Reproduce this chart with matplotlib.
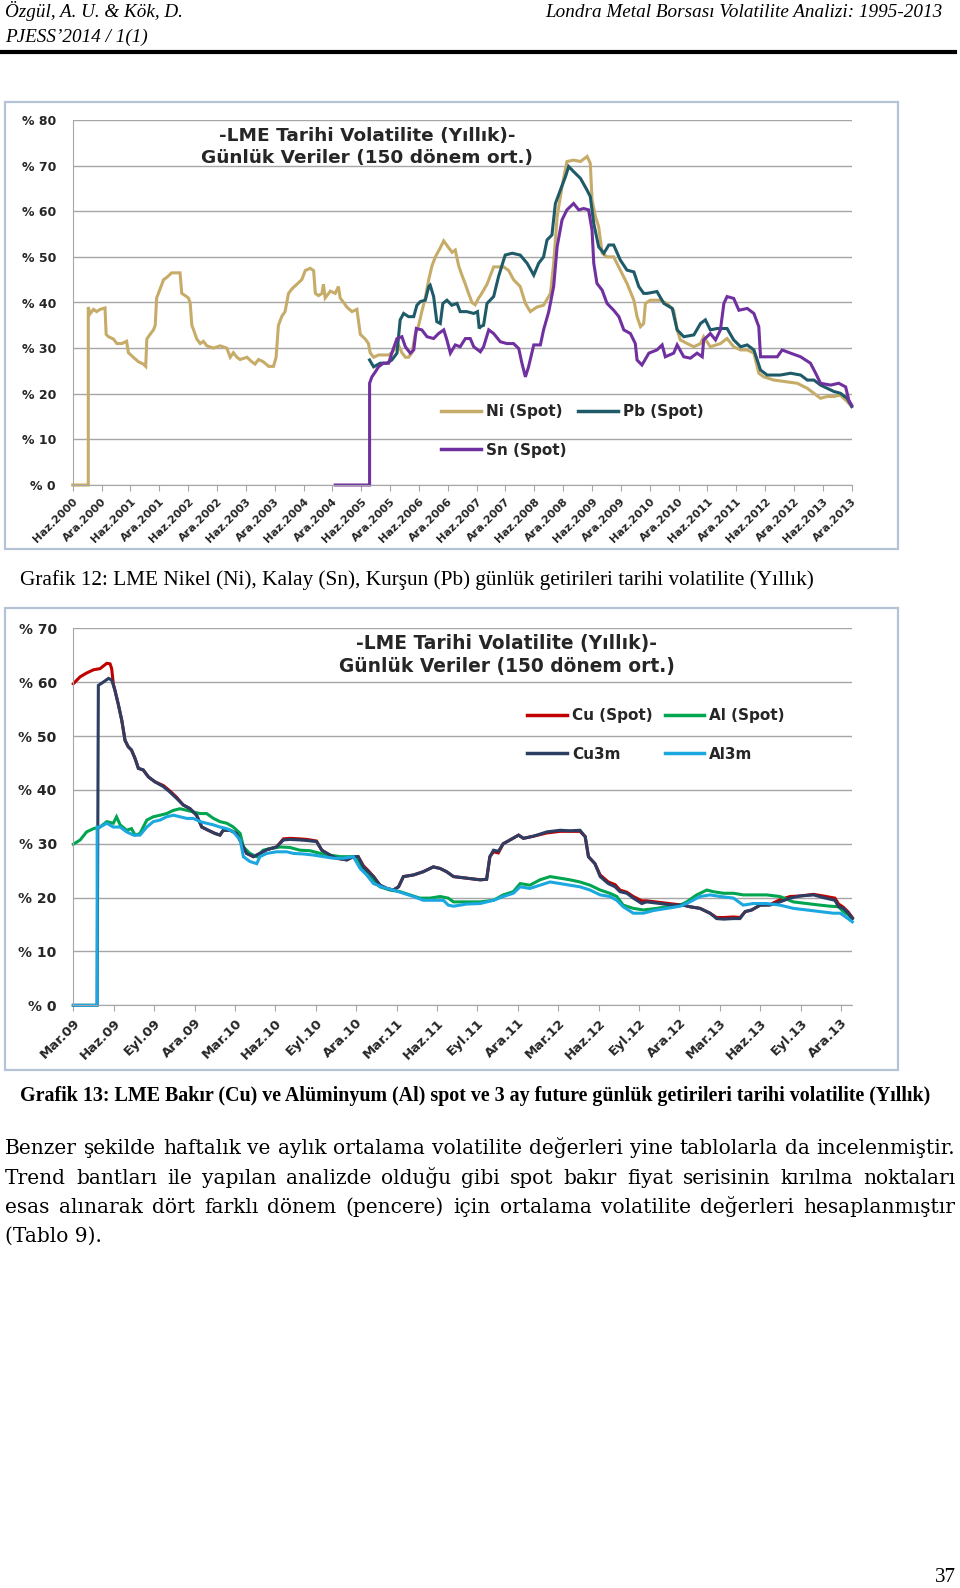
import matplotlib
matplotlib.use("Agg")
import matplotlib.pyplot as plt
from matplotlib.patches import Rectangle

# ---------------------------------------------------------------------------
# data (x = tick index, y = volatility in %)
# ---------------------------------------------------------------------------
labels_1 = ["Haz.2000", "Ara.2000", "Haz.2001", "Ara.2001", "Haz.2002", "Ara.2002",
            "Haz.2003", "Ara.2003", "Haz.2004", "Ara.2004", "Haz.2005", "Ara.2005",
            "Haz.2006", "Ara.2006", "Haz.2007", "Ara.2007", "Haz.2008", "Ara.2008",
            "Haz.2009", "Ara.2009", "Haz.2010", "Ara.2010", "Haz.2011", "Ara.2011",
            "Haz.2012", "Ara.2012", "Haz.2013", "Ara.2013"]

ni_spot = [(0, 0), (0.54, 0), (0.54, 39), (0.60, 37.5), (0.72, 38.5), (0.83, 38), (0.95, 38.5),
           (1.12, 38.8), (1.16, 33), (1.24, 32.5), (1.41, 32), (1.53, 31), (1.70, 31), (1.87, 31.5),
           (1.93, 29), (2.10, 28), (2.28, 27), (2.45, 26.5), (2.53, 26), (2.57, 32), (2.68, 33),
           (2.80, 34), (2.86, 35), (2.91, 41), (3.03, 43), (3.15, 45), (3.26, 45.5), (3.43, 46.5),
           (3.61, 46.5), (3.72, 46.5), (3.78, 42), (3.90, 41.5), (4.01, 41), (4.07, 40), (4.13, 35),
           (4.19, 34), (4.30, 32), (4.42, 31), (4.53, 31.5), (4.65, 30.5), (4.88, 30), (5.11, 30.5),
           (5.34, 30), (5.46, 28), (5.57, 29), (5.69, 28), (5.80, 27.5), (6.04, 28), (6.21, 27),
           (6.32, 26.5), (6.44, 27.5), (6.61, 27), (6.79, 26), (6.96, 26), (7.05, 28), (7.13, 35),
           (7.25, 37), (7.36, 38), (7.48, 42), (7.60, 43), (7.77, 44), (7.94, 45), (8.06, 47),
           (8.23, 47.5), (8.35, 47), (8.41, 42), (8.52, 41.5), (8.64, 42), (8.69, 44), (8.75, 41),
           (8.93, 42.5), (9.10, 42), (9.21, 43.5), (9.27, 41), (9.39, 40), (9.50, 39), (9.68, 38),
           (9.85, 38.5), (9.97, 33), (10.14, 32), (10.25, 31), (10.31, 29), (10.37, 28.5), (10.43, 28),
           (10.60, 28.5), (10.78, 28.5), (10.95, 28.5), (11.06, 29), (11.18, 30), (11.30, 30.5),
           (11.41, 29), (11.53, 28), (11.64, 28), (11.76, 29), (11.87, 33), (11.99, 35), (12.10, 38),
           (12.22, 41), (12.34, 45), (12.45, 48), (12.57, 50), (12.74, 52), (12.86, 53.5), (13.03, 52),
           (13.15, 51), (13.26, 51.5), (13.38, 48), (13.49, 46), (13.61, 44), (13.72, 42), (13.84, 40),
           (13.95, 39.5), (14.07, 41), (14.13, 41.5), (14.36, 44), (14.59, 47.8), (14.94, 47.8),
           (15.11, 47), (15.28, 45), (15.51, 43.5), (15.69, 39.8), (15.86, 38), (16.09, 39), (16.32, 39.4),
           (16.56, 42), (16.67, 48.6), (16.79, 58.8), (16.96, 65.4), (17.13, 70.9), (17.36, 71.2),
           (17.60, 70.9), (17.83, 72), (17.94, 70.5), (18.00, 62.5), (18.12, 58.8), (18.23, 56.6),
           (18.35, 50.8), (18.52, 50), (18.75, 50), (18.98, 47.1), (19.21, 44.2), (19.45, 40.5),
           (19.56, 36.9), (19.68, 34.7), (19.79, 35.4), (19.85, 39.8), (20.02, 40.5), (20.37, 40.5),
           (20.60, 39.8), (20.83, 38.3), (20.95, 34), (21.06, 31.8), (21.30, 31), (21.53, 30.3),
           (21.76, 31), (21.87, 32.5), (22.10, 30.3), (22.45, 31), (22.68, 32.1), (22.91, 30.3),
           (23.15, 29.6), (23.38, 29.6), (23.61, 28.9), (23.78, 24.5), (23.95, 23.7), (24.30, 23),
           (24.76, 22.6), (25.11, 22.3), (25.46, 21.2), (25.69, 20.1), (25.92, 19), (26.15, 19.4),
           (26.38, 19.4), (26.61, 19.7), (26.84, 18.3), (27.0, 17.2)]

pb_spot = [(10.29, 27.4), (10.43, 25.9), (10.66, 26.7), (10.89, 26.7), (11.06, 27.4), (11.24, 28.9),
           (11.35, 36.2), (11.47, 37.6), (11.64, 36.9), (11.82, 36.9), (11.93, 39.4), (12.05, 40.2),
           (12.22, 40.5), (12.34, 43.5), (12.39, 43.8), (12.51, 41.3), (12.62, 35.8), (12.74, 35.4),
           (12.83, 39.8), (12.97, 40.5), (13.14, 39.4), (13.32, 39.8), (13.43, 38), (13.66, 38),
           (13.90, 37.6), (14.03, 38), (14.09, 34.3), (14.13, 34.7), (14.24, 35), (14.36, 39.8),
           (14.59, 41.3), (14.76, 45.7), (14.99, 50.4), (15.23, 50.8), (15.51, 50.4), (15.75, 48.6),
           (15.98, 46), (16.15, 48.6), (16.32, 50), (16.44, 53.7), (16.61, 54.8), (16.73, 61.7),
           (16.90, 64.6), (17.08, 67.6), (17.19, 69.8), (17.36, 68.7), (17.60, 67.2), (17.83, 64.6),
           (17.94, 63.2), (18.06, 57.3), (18.23, 52.2), (18.41, 50.8), (18.58, 52.6), (18.75, 52.6),
           (18.98, 49.3), (19.21, 47.1), (19.45, 46.7), (19.62, 43.5), (19.79, 42), (19.91, 42),
           (20.25, 42.4), (20.49, 39.8), (20.78, 38.7), (20.95, 34), (21.18, 32.5), (21.53, 32.9),
           (21.76, 35.4), (21.93, 36.2), (22.10, 34), (22.34, 34.3), (22.68, 34.3), (22.91, 31.8),
           (23.15, 30.3), (23.38, 30.7), (23.61, 29.6), (23.84, 25.2), (24.07, 24.1), (24.53, 24.1),
           (24.88, 24.5), (25.23, 24.1), (25.46, 23), (25.69, 23), (25.92, 21.9), (26.15, 21.2),
           (26.38, 20.5), (26.61, 20.1), (26.84, 19), (27.0, 17.2)]

sn_spot = [(9.10, 0), (10.29, 0), (10.29, 22.3), (10.37, 23.7), (10.49, 24.8), (10.60, 25.9),
           (10.77, 26.7), (10.95, 26.7), (11.06, 28.9), (11.24, 32.1), (11.41, 32.5), (11.53, 30.3),
           (11.70, 28.9), (11.82, 29.6), (11.91, 34.3), (12.10, 34), (12.28, 32.5), (12.51, 32.1),
           (12.68, 33.2), (12.86, 34), (12.97, 31.8), (13.09, 28.9), (13.26, 30.7), (13.43, 30.3),
           (13.61, 32.1), (13.78, 32.1), (13.90, 30.3), (14.13, 29.2), (14.24, 30.3), (14.42, 34),
           (14.59, 33.2), (14.82, 31.4), (15.05, 31), (15.28, 31), (15.46, 29.9), (15.57, 26.7),
           (15.69, 23.7), (15.80, 25.9), (15.98, 30.7), (16.21, 30.7), (16.32, 34), (16.50, 38),
           (16.67, 43.5), (16.79, 52.2), (16.96, 58.1), (17.13, 60.3), (17.36, 61.7), (17.54, 60.3),
           (17.71, 60.6), (17.88, 60.3), (18.00, 55.9), (18.06, 48.6), (18.17, 44.2), (18.35, 42.7),
           (18.52, 39.8), (18.75, 38.3), (18.93, 36.9), (19.10, 34), (19.33, 33.2), (19.50, 31),
           (19.56, 27.4), (19.73, 26.3), (19.97, 28.9), (20.25, 29.6), (20.43, 30.7), (20.54, 28.1),
           (20.83, 28.9), (20.95, 30.7), (21.18, 28.1), (21.41, 27.8), (21.64, 28.9), (21.82, 28.1),
           (21.87, 31.8), (22.10, 33.2), (22.28, 31.8), (22.45, 34), (22.57, 39.8), (22.68, 41.3),
           (22.91, 40.9), (23.09, 38.3), (23.38, 38.7), (23.61, 37.6), (23.78, 34.7), (23.84, 28.1),
           (24.07, 28.1), (24.42, 28.1), (24.59, 29.6), (24.88, 28.9), (25.23, 28.1), (25.57, 26.7),
           (25.75, 24.5), (25.92, 22.3), (26.27, 21.9), (26.55, 22.3), (26.79, 21.5), (26.90, 18.6),
           (27.0, 17.5)]

labels_2 = ["Mar.09", "Haz.09", "Eyl.09", "Ara.09", "Mar.10", "Haz.10", "Eyl.10", "Ara.10",
            "Mar.11", "Haz.11", "Eyl.11", "Ara.11", "Mar.12", "Haz.12", "Eyl.12", "Ara.12",
            "Mar.13", "Haz.13", "Eyl.13", "Ara.13"]

cu3m = [(0, 0), (0.59, 0), (0.62, 59.4), (0.74, 60), (0.87, 60.7), (0.95, 60.4), (1.03, 58.5),
        (1.11, 56), (1.20, 52.9), (1.28, 49.2), (1.36, 48), (1.44, 47.4), (1.53, 45.8), (1.61, 44),
        (1.73, 43.7), (1.86, 42.4), (2.02, 41.5), (2.23, 40.6), (2.39, 39.6), (2.56, 38.4),
        (2.72, 37.2), (2.89, 36.5), (3.05, 35.3), (3.18, 33.1), (3.34, 32.5), (3.51, 31.9),
        (3.63, 31.6), (3.71, 32.5), (3.88, 32.5), (4.04, 31.9), (4.17, 30), (4.29, 28.2),
        (4.46, 27.6), (4.62, 28.2), (4.79, 28.9), (5.03, 29.4), (5.20, 30.7), (5.36, 30.8),
        (5.61, 30.7), (5.78, 30.6), (6.02, 30.4), (6.15, 28.8), (6.35, 27.9), (6.52, 27.3),
        (6.77, 27), (6.93, 27.6), (7.05, 27.6), (7.18, 25.7), (7.30, 24.8), (7.43, 23.9),
        (7.59, 22.3), (7.76, 21.7), (7.92, 21.4), (8.05, 22), (8.17, 23.9), (8.42, 24.2),
        (8.66, 24.8), (8.91, 25.7), (9.08, 25.4), (9.24, 24.8), (9.41, 23.9), (9.74, 23.6),
        (10.07, 23.3), (10.23, 23.4), (10.31, 27.6), (10.40, 28.8), (10.52, 28.6), (10.64, 30),
        (10.81, 30.7), (11.02, 31.6), (11.14, 31), (11.39, 31.4), (11.72, 32.2), (12.05, 32.5),
        (12.29, 32.4), (12.54, 32.5), (12.67, 31.3), (12.75, 27.6), (12.91, 26.3), (13.04, 23.9),
        (13.24, 22.6), (13.41, 22), (13.53, 21.1), (13.70, 20.8), (13.86, 19.9), (14.07, 18.9),
        (14.19, 19.2), (14.52, 18.9), (14.85, 18.6), (15.10, 18.6), (15.26, 18.3), (15.51, 18),
        (15.76, 17.1), (15.92, 16.1), (16.09, 16), (16.34, 16.1), (16.50, 16.1), (16.63, 17.4),
        (16.79, 17.7), (17.00, 18.6), (17.24, 18.6), (17.49, 19.2), (17.74, 19.9), (17.99, 20.3),
        (18.32, 20.5), (18.56, 20), (18.85, 19.5), (18.94, 18.3), (19.06, 18), (19.18, 17.1),
        (19.28, 16.1)]

cu_spot = [(0, 59.7), (0.17, 61), (0.33, 61.7), (0.50, 62.3), (0.66, 62.5), (0.83, 63.5),
           (0.91, 63.4), (0.95, 62.5), (0.99, 59.7), (1.03, 58.5), (1.11, 56), (1.20, 52.9),
           (1.28, 49.2), (1.36, 48), (1.44, 47.4), (1.53, 45.8), (1.61, 44), (1.73, 43.7),
           (1.86, 42.4), (2.02, 41.5), (2.23, 40.8), (2.39, 39.8), (2.56, 38.6), (2.72, 37.2),
           (2.89, 36.5), (3.05, 35.3), (3.18, 33.1), (3.34, 32.5), (3.51, 31.9), (3.63, 31.6),
           (3.71, 32.5), (3.88, 32.5), (4.04, 31.9), (4.17, 30), (4.29, 28.2), (4.46, 27.6),
           (4.62, 28.2), (4.79, 28.9), (5.03, 29.4), (5.20, 30.9), (5.36, 31), (5.61, 30.9),
           (5.78, 30.8), (6.02, 30.5), (6.15, 28.8), (6.35, 27.9), (6.52, 27.3), (6.77, 27),
           (6.93, 27.6), (7.05, 27.6), (7.18, 25.9), (7.30, 25), (7.43, 23.9), (7.59, 22.3),
           (7.76, 21.7), (7.92, 21.4), (8.05, 22), (8.17, 23.9), (8.42, 24.2), (8.66, 24.8),
           (8.91, 25.7), (9.08, 25.4), (9.24, 24.8), (9.41, 23.9), (9.74, 23.6), (10.07, 23.3),
           (10.23, 23.4), (10.31, 27.6), (10.40, 28.5), (10.52, 28.3), (10.64, 30), (10.81, 30.7),
           (11.02, 31.6), (11.14, 31), (11.39, 31.4), (11.72, 32), (12.05, 32.3), (12.29, 32.3),
           (12.54, 32.3), (12.67, 31.3), (12.75, 27.6), (12.91, 26.3), (13.04, 24.2), (13.24, 22.9),
           (13.41, 22.4), (13.53, 21.4), (13.70, 21), (13.86, 20.2), (14.07, 19.4), (14.19, 19.4),
           (14.52, 19.1), (14.85, 18.8), (15.10, 18.6), (15.26, 18.3), (15.51, 18), (15.76, 17.1),
           (15.92, 16.3), (16.09, 16.3), (16.34, 16.4), (16.50, 16.3), (16.63, 17.4), (16.79, 17.7),
           (17.00, 18.6), (17.24, 18.7), (17.49, 19.6), (17.74, 20.2), (17.99, 20.3), (18.32, 20.6),
           (18.56, 20.3), (18.85, 19.9), (18.94, 18.8), (19.06, 18.2), (19.18, 17.3), (19.28, 16.3)]

al_spot = [(0, 29.9), (0.17, 30.7), (0.33, 32.2), (0.50, 32.8), (0.66, 33.1), (0.83, 34.1),
           (0.99, 33.8), (1.07, 35), (1.16, 33.5), (1.32, 32.5), (1.44, 32.8), (1.53, 31.6),
           (1.65, 31.9), (1.82, 34.4), (1.98, 35), (2.15, 35.3), (2.31, 35.6), (2.48, 36.2),
           (2.64, 36.5), (2.81, 36.2), (2.97, 35.9), (3.14, 35.6), (3.30, 35.6), (3.47, 34.7),
           (3.63, 34.1), (3.80, 33.8), (3.96, 33.1), (4.13, 31.9), (4.21, 29.4), (4.37, 28.2),
           (4.54, 27.6), (4.70, 28.8), (4.87, 29.1), (5.12, 29.4), (5.36, 29.3), (5.61, 28.8),
           (5.86, 28.7), (6.11, 28.2), (6.35, 27.9), (6.60, 27.6), (6.85, 27.6), (7.01, 27.6),
           (7.14, 25.7), (7.26, 24.5), (7.43, 23.3), (7.59, 22), (7.84, 21.4), (8.09, 21.1),
           (8.33, 20.5), (8.58, 19.9), (8.83, 19.9), (9.08, 20.2), (9.28, 19.9), (9.41, 19.2),
           (9.74, 19.2), (10.07, 19.2), (10.40, 19.5), (10.64, 20.5), (10.89, 21.1), (11.06, 22.6),
           (11.30, 22.3), (11.55, 23.3), (11.80, 23.9), (12.05, 23.6), (12.29, 23.3), (12.54, 22.9),
           (12.79, 22.3), (13.04, 21.4), (13.28, 20.8), (13.45, 20.2), (13.61, 18.6), (13.86, 18),
           (14.11, 17.7), (14.44, 18), (14.77, 18.4), (15.02, 18.6), (15.18, 19.2), (15.43, 20.5),
           (15.68, 21.4), (15.84, 21.1), (16.09, 20.8), (16.34, 20.8), (16.58, 20.5), (16.83, 20.5),
           (17.16, 20.5), (17.49, 20.2), (17.82, 19.2), (18.15, 18.9), (18.48, 18.6), (18.73, 18.4),
           (18.94, 18.3), (19.06, 17.4), (19.18, 16.8), (19.28, 16.1)]

al3m = [(0, 0), (0.59, 0), (0.59, 33.1), (0.66, 33.1), (0.83, 33.8), (0.99, 33.1), (1.16, 33.1),
        (1.32, 32.2), (1.49, 31.6), (1.65, 31.6), (1.82, 33.1), (1.98, 34.1), (2.15, 34.4),
        (2.31, 35), (2.48, 35.3), (2.64, 35), (2.81, 34.7), (2.97, 34.7), (3.14, 34.1),
        (3.30, 33.8), (3.47, 33.5), (3.63, 33.1), (3.80, 32.8), (3.96, 32.2), (4.13, 30.7),
        (4.21, 27.6), (4.37, 26.7), (4.54, 26.3), (4.62, 27.6), (4.79, 28.2), (5.03, 28.5),
        (5.28, 28.5), (5.45, 28.2), (5.69, 28.1), (5.94, 27.9), (6.19, 27.6), (6.44, 27.3),
        (6.68, 27.3), (6.93, 27.6), (7.10, 25.4), (7.26, 24.2), (7.43, 22.6), (7.67, 21.9),
        (7.92, 21.4), (8.17, 20.8), (8.42, 20.2), (8.66, 19.5), (8.91, 19.5), (9.16, 19.5),
        (9.28, 18.6), (9.41, 18.4), (9.74, 18.8), (10.07, 18.9), (10.40, 19.5), (10.64, 20.2),
        (10.89, 20.8), (11.06, 22), (11.30, 21.7), (11.55, 22.3), (11.80, 22.9), (12.05, 22.6),
        (12.29, 22.3), (12.54, 22), (12.79, 21.4), (13.04, 20.5), (13.28, 20.2), (13.45, 19.5),
        (13.61, 18.3), (13.86, 17.1), (14.11, 17.1), (14.36, 17.6), (14.69, 18), (15.02, 18.4),
        (15.26, 19.2), (15.51, 20.2), (15.76, 20.5), (16.01, 20.2), (16.34, 19.9), (16.58, 18.6),
        (16.83, 18.9), (17.16, 18.9), (17.49, 18.6), (17.82, 18), (18.15, 17.7), (18.48, 17.4),
        (18.81, 17.1), (18.98, 17.1), (19.10, 16.5), (19.28, 15.5)]

paragraph = ["Benzer şekilde haftalık ve aylık ortalama volatilite değerleri yine tablolarla da incelenmiştir.",
             "Trend bantları ile yapılan analizde olduğu gibi spot bakır fiyat serisinin kırılma noktaları",
             "esas alınarak dört farklı dönem (pencere) için ortalama volatilite değerleri hesaplanmıştır",
             "(Tablo 9)."]

# ---------------------------------------------------------------------------
W, H = 960, 1588
fig = plt.figure(figsize=(W / 100, H / 100), dpi=100)
fig.patch.set_facecolor("white")


def fx(x):
    return x / W


def fy(y):
    return 1 - y / H


SERIF = ["Liberation Serif", "DejaVu Serif"]
BODY = ["DejaVu Serif"]
SANS = ["DejaVu Sans"]
GRID = "#A6A6A6"
INK = "#262626"

# page header
fig.text(fx(5), fy(17), "Özgül, A. U. & Kök, D.", family=SERIF, style="italic", fontsize=13.8,
         va="baseline")
fig.text(fx(5), fy(42), "PJESS’2014 / 1(1)", family=SERIF, style="italic", fontsize=13.8,
         va="baseline")
fig.text(fx(942), fy(17), "Londra Metal Borsası Volatilite Analizi: 1995-2013", family=SERIF,
         style="italic", fontsize=13.8, va="baseline", ha="right")
fig.add_artist(plt.Line2D([0, fx(955)], [fy(51.5), fy(51.5)], color="black", lw=3))

# chart frames
for top, bottom in [(102, 549), (608, 1070)]:
    fig.add_artist(Rectangle((fx(5), fy(bottom)), fx(898) - fx(5), (bottom - top) / H,
                             fill=False, edgecolor="#B4C4D6", lw=1.6))


def make_axes(left, top, right, bottom):
    return fig.add_axes([fx(left), fy(bottom), (right - left) / W, (bottom - top) / H])


def style(ax, ymax, xmax, xlabels, ysize, xsize):
    ax.set_xlim(0, xmax)
    ax.set_ylim(0, ymax)
    ticks = list(range(0, ymax + 1, 10))
    ax.set_yticks(ticks)
    ax.set_yticklabels([f"% {t}" for t in ticks], fontsize=ysize, fontweight="bold",
                       color=INK, family=SANS)
    ax.yaxis.grid(True, color=GRID, lw=1)
    ax.set_axisbelow(True)
    for s in ["top", "right"]:
        ax.spines[s].set_visible(False)
    for s in ["left", "bottom"]:
        ax.spines[s].set_color(GRID)
    ax.tick_params(axis="y", length=0, pad=12)
    ax.set_xticks(range(len(xlabels)))
    ax.set_xticklabels(xlabels, rotation=45, ha="right", rotation_mode="anchor",
                       fontsize=xsize, fontweight="bold", color=INK, family=SANS)
    ax.tick_params(axis="x", length=4, color=GRID, pad=4)
    ax.patch.set_alpha(0)


def draw(ax, pts, color, label):
    xs = [p[0] for p in pts]
    ys = [p[1] for p in pts]
    return ax.plot(xs, ys, color=color, lw=2.2, label=label, clip_on=False,
                   solid_joinstyle="miter")[0]


def legend(ax, handles, names, anchor, size):
    leg = ax.legend(handles, names, ncol=2, loc="upper left", bbox_to_anchor=anchor,
                    frameon=False, borderpad=0, borderaxespad=0, handlelength=2.6,
                    handletextpad=0.33, columnspacing=0.8, labelspacing=1.55,
                    prop={"family": SANS, "weight": "bold", "size": size})
    for t in leg.get_texts():
        t.set_color(INK)
    for l in leg.get_lines():
        l.set_linewidth(2.5)


TITLE = "-LME Tarihi Volatilite (Yıllık)-\nGünlük Veriler (150 dönem ort.)"

# ---- Grafik 12 ----
ax1 = make_axes(72.7, 120, 851.7, 485)
style(ax1, 80, 27, labels_1, 9, 8)
h_ni = draw(ax1, ni_spot, "#C6AC68", "Ni (Spot)")
h_pb = draw(ax1, pb_spot, "#1E5A68", "Pb (Spot)")
h_sn = draw(ax1, sn_spot, "#7030A0", "Sn (Spot)")
fig.text(fx(367), fy(147), TITLE, ha="center", va="center", fontsize=13.3, fontweight="bold",
         color=INK, family=SANS, linespacing=1.3)
legend(ax1, [h_ni, h_sn, h_pb], ["Ni (Spot)", "Sn (Spot)", "Pb (Spot)"],
       ((441 - 72.7) / 779, (485 - 404) / 365), 11)

fig.text(fx(20), fy(585), "Grafik 12: LME Nikel (Ni), Kalay (Sn), Kurşun (Pb) günlük getirileri "
         "tarihi volatilite (Yıllık)", family=SERIF, fontsize=15.3, va="baseline")

# ---- Grafik 13 ----
ax2 = make_axes(73.3, 628.3, 852.3, 1005.3)
style(ax2, 70, 19.28, labels_2, 10, 9.5)
h_cu = draw(ax2, cu_spot, "#C00000", "Cu (Spot)")
h_al = draw(ax2, al_spot, "#00A550", "Al (Spot)")
h_cu3 = draw(ax2, cu3m, "#2C3E63", "Cu3m")
h_al3 = draw(ax2, al3m, "#1BA7E0", "Al3m")
fig.text(fx(507), fy(655), TITLE, ha="center", va="center", fontsize=13.4, fontweight="bold",
         color=INK, family=SANS, linespacing=1.3)
legend(ax2, [h_cu, h_cu3, h_al, h_al3], ["Cu (Spot)", "Cu3m", "Al (Spot)", "Al3m"],
       ((527 - 73.3) / 779, (1005.3 - 708) / 377), 11)

fig.text(fx(20), fy(1101), "Grafik 13: LME Bakır (Cu) ve Alüminyum (Al) spot ve 3 ay future günlük "
         "getirileri tarihi volatilite (Yıllık)", family=SERIF, fontsize=14.4, fontweight="bold",
         va="baseline")

# ---- justified paragraph ----
renderer = fig.canvas.get_renderer()
baselines = [1154, 1184, 1213, 1242]
for i, (line, yb) in enumerate(zip(paragraph, baselines)):
    if i == len(paragraph) - 1:
        fig.text(fx(5), fy(yb), line, family=BODY, fontsize=14.5, va="baseline")
        continue
    words = line.split()
    texts = [fig.text(0, fy(yb), w, family=BODY, fontsize=14.5, va="baseline") for w in words]
    widths = [t.get_window_extent(renderer).width for t in texts]
    gap = (955 - 5 - sum(widths)) / (len(words) - 1)
    x = 5
    for t, w in zip(texts, widths):
        t.set_x(fx(x))
        x += w + gap

fig.text(fx(956), fy(1577), "37", family=SERIF, fontsize=15, ha="right", va="center")

fig.savefig("out.png", dpi=100, facecolor="white")
